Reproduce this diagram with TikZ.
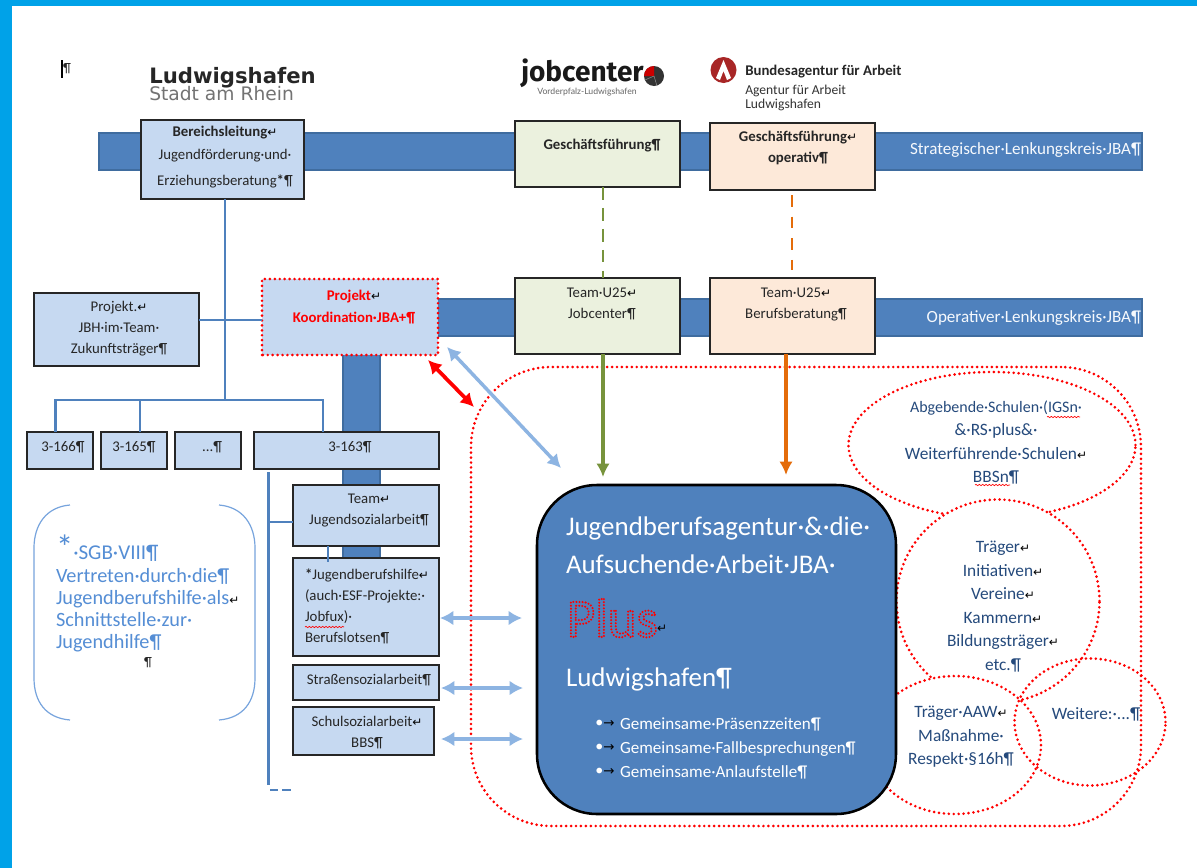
\documentclass[tikz,border=0pt]{standalone}
\usepackage{fontspec}
\setmainfont{Carlito}
\newfontfamily\djv{DejaVu Sans}
\newfontfamily\lat{Lato}
\newfontfamily\fira{Fira Sans}
\usetikzlibrary{arrows.meta,shapes.geometric,decorations.pathmorphing}
\definecolor{frame}{HTML}{00A2E8}
\definecolor{barblue}{HTML}{4F81BD}
\definecolor{barline}{HTML}{3F6C9F}
\definecolor{boxblue}{HTML}{C6D9F1}
\definecolor{boxgreen}{HTML}{EBF1DE}
\definecolor{boxorange}{HTML}{FDE9D9}
\definecolor{lblue}{HTML}{8DB4E2}
\definecolor{sgb}{HTML}{558ED5}
\definecolor{navy}{HTML}{254A7C}
\definecolor{mygreen}{HTML}{77933C}
\definecolor{myorange}{HTML}{E46C0A}
\definecolor{dotred}{HTML}{FF0000}
\newcommand{\rt}{{\djv\color{black}\fontsize{9}{9}\selectfont ↵}}
\newcommand{\fsz}[2]{\fontsize{#1}{#2}\selectfont}
\newcommand{\bx}[6][]{\node[inner sep=0pt,outer sep=0pt,minimum width={(#5-#3)*0.75pt},minimum height={(#6-#4)*0.75pt},#1] (#2) at ({(#3+#5)/2},{(#4+#6)/2}) {};}
\tikzset{
  x=0.75pt,y=-0.75pt,
  box/.style={draw=black!85,line width=1.1pt,fill=boxblue},
  gbox/.style={box,fill=boxgreen},
  obox/.style={box,fill=boxorange},
  bar/.style={fill=barblue,draw=barline,line width=1.1pt},
  reddots/.style={draw=dotred,line width=2.2pt,line cap=round,dash pattern=on 0pt off 3.7pt},
  lbl/.style={inner sep=0pt,outer sep=0pt,align=center,font=\fsz{11.1}{15.75},text=black!85},
  elbl/.style={lbl,font=\fsz{13}{17.6},text=navy},
  conn/.style={draw=barblue,line width=2.1pt},
  dbl/.style={draw=lblue,line width=2.6pt,{Latex[length=10pt,width=11pt]}-{Latex[length=10pt,width=11pt]}},
  wavy/.style={draw=red,line width=.5pt,decorate,decoration={snake,amplitude=.5pt,segment length=2.5pt}}
}
\begin{document}
\begin{tikzpicture}
\useasboundingbox (0,0) rectangle (1197,868);
\fill[white] (0,0) rectangle (1197,868);
\fill[frame] (0,0) rectangle (1197,6);
\fill[frame] (0,0) rectangle (12,868);

% cursor mark
\draw[black,line width=.8pt] (62,60) -- (62,78);
\node[lbl,font=\fsz{10}{10}] (mark) at (67,69) {¶};

% logos
\node[inner sep=0pt,anchor=base west,font=\djv\bfseries\fsz{15.9}{17},text=black!85] (lu1) at (149,83) {Ludwigshafen};
\node[inner sep=0pt,anchor=base west,font=\djv\fsz{14}{17},text=black!55] (lu2) at (149,100) {Stadt am Rhein};
\node[inner sep=0pt,anchor=base west,font=\fira\bfseries\fsz{21}{21},text=black!90] (jc1) at (521,81.5) {jobcenter};
\node[inner sep=0pt,anchor=base,font=\lat\fsz{6.5}{7},text=black!60] (jc2) at (587,94) {Vorderpfalz-Ludwigshafen};
\fill[black!80] (654,76) circle [radius=10];
\fill[red!80!black] (654,76) -- (654,66) arc[start angle=-90,end angle=-180,radius=10] -- cycle;
\draw[black!45,line width=.4pt] (654,76) -- (645,80) (654,76) -- (657,86);
\fill[red!60!black!85] (723.5,70) circle [radius=13];
\fill[white] (723.5,60) -- (716,78) -- (720,80) -- (723.5,71) -- (727,80) -- (731,78) -- cycle;
\node[inner sep=0pt,anchor=base west,font=\bfseries\fsz{11.1}{12},text=black!85] (ba1) at (745,75) {Bundesagentur für Arbeit};
\node[inner sep=0pt,anchor=base west,font=\fsz{10.2}{11},text=black!80] (ba2) at (745,94) {Agentur für Arbeit};
\node[inner sep=0pt,anchor=base west,font=\fsz{10.2}{11},text=black!80] (ba3) at (745,108) {Ludwigshafen};

% bars
\bx[bar]{barTop}{99}{133}{1142}{170}
\bx[bar]{barOp}{430}{299}{1142}{336}
\bx[bar]{barV}{343}{350}{380}{558}

% connectors behind boxes
\coordinate (j1) at (225,400);
\coordinate (j2) at (225,320);
\coordinate (a1) at (55.5,400);
\coordinate (a2) at (140,400);
\coordinate (a3) at (323,400);

% boxes
\bx[box]{bl}{141}{120}{304}{199}
\bx[gbox]{gf}{515}{121}{680}{187}
\bx[obox]{gfo}{710}{123}{875}{190}
\bx[gbox]{tj}{515}{278}{680}{354}
\bx[obox]{tb}{710}{278}{875}{354}
\bx[box]{pj}{34}{293}{199}{366}
\bx[fill=boxblue]{pk}{262}{279}{438}{355}
\draw[reddots] (pk.south west) rectangle (pk.north east);
\bx[box]{b166}{27}{432}{93}{469}
\bx[box]{b165}{101}{432}{167}{469}
\bx[box]{bdots}{175}{432}{241}{469}
\bx[box]{b163}{254}{432}{439}{469}
\bx[box]{tjs}{293}{485}{439}{546}
\bx[box]{jbh}{293}{558}{439}{656}
\bx[box]{str}{293}{665}{439}{700}
\bx[box]{sch}{293}{707}{434}{755}

\draw[conn] (bl.south -| j1) -- (j1);
\draw[conn] (pj.east |- j2) -- (pk.west |- j2);
\draw[conn] (b166.north -| a1) -- (a1) -- (a3) -- (b163.north -| a3);
\draw[conn] (a2) -- (b165.north -| a2);
\coordinate (v1) at (268.5,472);
\coordinate (v2) at (268.5,785);
\coordinate (v3) at (268.5,522);
\draw[conn] (v1) -- (v2);
\draw[conn] (v3) -- (tjs.west |- v3);
\coordinate (w1) at (328,546);
\coordinate (w2) at (328,562);
\draw[draw=barblue,line width=.8pt] (w1) -- (w2);
\coordinate (d1) at (270,790);
\coordinate (d2) at (291,790);
\draw[conn,dash pattern=on 6.2pt off 3pt] (d1) -- (d2);

% dashed links
\coordinate (g1) at (603,187);
\coordinate (g2) at (603,278);
\draw[mygreen,line width=2.2pt,dash pattern=on 9.5pt off 6.2pt] (g1) -- (g2);
\coordinate (o1) at (792,195);
\coordinate (o2) at (792,270);
\draw[myorange,line width=2.2pt,dash pattern=on 8.8pt off 7.4pt] (o1) -- (o2);

% bracket
\draw[sgb!80,line width=.9pt] (70,505) .. controls (46,507) and (34,525) .. (34,548) -- (34,678) .. controls (34,702) and (46,718) .. (70,720);
\draw[sgb!80,line width=.9pt] (219,505) .. controls (243,507) and (255,525) .. (255,548) -- (255,678) .. controls (255,702) and (243,718) .. (219,720);

% ellipses
\node[ellipse,reddots,inner sep=0pt,minimum width={287*0.75pt},minimum height={146*0.75pt}] (eAb) at (992,445) {};
\node[ellipse,reddots,fill=white,inner sep=0pt,minimum width={203*0.75pt},minimum height={203*0.75pt}] (eTr) at (998,601) {};
\node[ellipse,reddots,fill=white,inner sep=0pt,minimum width={172*0.75pt},minimum height={138*0.75pt}] (eAw) at (955,745) {};
\node[ellipse,reddots,inner sep=0pt,minimum width={151*0.75pt},minimum height={127*0.75pt}] (eWe) at (1090,722) {};

% main box
\bx[fill=barblue,draw=black,line width=1.9pt,rounded corners=45pt]{main}{537}{485}{896}{814}
\bx[reddots,rounded corners=60pt]{outer}{471}{367}{1141}{826}

% arrows
\coordinate (ga) at (603,477);
\coordinate (gb) at (603,354);
\draw[mygreen,line width=3pt,-{Latex[length=10pt,width=10pt]}] (gb) -- (ga);
\coordinate (oa) at (786,475);
\coordinate (ob) at (786,354);
\draw[myorange,line width=3pt,-{Latex[length=10pt,width=10pt]}] (ob) -- (oa);
\coordinate (ra1) at (428,360); \coordinate (ra2) at (474,407);
\draw[red,line width=2.8pt,{Latex[length=10pt,width=11pt]}-{Latex[length=10pt,width=11pt]}] (ra1) -- (ra2);
\coordinate (ba) at (447,347); \coordinate (bb) at (561,468);
\draw[dbl] (ba) -- (bb);
\coordinate (c1) at (522,618); \coordinate (c2) at (523,688); \coordinate (c3) at (523,739);
\draw[dbl] (jbh.east |- c1) ++(1,0) -- (c1);
\draw[dbl] (str.east |- c2) ++(2,0) -- (c2);
\draw[dbl] (441,739) -- (c3);

% texts
\node[lbl] (tBl) at (225,157) {\textbf{Bereichsleitung}\rt\\[1.5pt]Jugendförderung·und·\\[4pt]Erziehungsberatung\textbf{*}¶};
\node[lbl] (tGf) at (602,146) {\textbf{Geschäftsführung¶}};
\node[lbl] (tGo) at (798,148) {\textbf{Geschäftsführung}\rt\\\textbf{operativ¶}};
\node[lbl] (tTj) at (602,304) {Team·U25\rt\\Jobcenter¶};
\node[lbl] (tTb) at (796,304) {Team·U25\rt\\Berufsberatung¶};
\node[lbl] (tPj) at (119,329) {Projekt.\rt\\JBH·im·Team·\\Zukunftsträger¶};
\node[lbl,text=red] (tPk) at (354,307.5) {\textbf{Projekt}\rt\\[.8pt]\textbf{Koordination·JBA+¶}};
\node[lbl,text=white!85!boxblue,font=\fsz{12.8}{14},anchor=east] (tS) at (1141,150) {Strategischer·Lenkungskreis·JBA¶};
\node[lbl,text=white!85!boxblue,font=\fsz{12.8}{14},anchor=east] (tO) at (1141,318) {Operativer·Lenkungskreis·JBA¶};
\node[lbl] (t166) at (63,447) {3-166¶};
\node[lbl] (t165) at (134,447) {3-165¶};
\node[lbl] (tdots) at (212,447) {...¶};
\node[lbl] (t163) at (350,447) {3-163¶};
\node[lbl] (tTjs) at (369,510.5) {Team\rt\\Jugendsozialarbeit¶};
\node[lbl,align=left,anchor=north west] (tJbh) at (305,569) {\textbf{*}Jugendberufshilfe\rt\\(auch·ESF-Projekte:·\\Jobfux)·\\Berufslotsen¶};
\node[lbl] (tStr) at (369,680) {Straßensozialarbeit¶};
\node[lbl] (tSch) at (367,732.5) {Schulsozialarbeit\rt\\BBS¶};
\draw[wavy] (305,627) -- (344,627);

\node[lbl,align=left,anchor=north west,font=\fsz{15.2}{16.5},text=sgb] (tSgb) at (56,568) {Vertreten·durch·die¶\\Jugendberufshilfe·als\rt\\Schnittstelle·zur·\\Jugendhilfe¶};
\node[lbl,anchor=base west,font=\fsz{15.8}{16},text=sgb] (tSgbH) at (56,559) {{\fsz{26}{16}*}·SGB·VIII¶};
\node[lbl,font=\fsz{10}{10}] (tPil) at (148,663) {¶};

\node[lbl,align=left,anchor=base west,font=\fsz{20.2}{28.5},text=white] (m1) at (566,573) {Jugendberufsagentur·\&·die·\\Aufsuchende·Arbeit·JBA·};
\node[lbl,align=left,anchor=base west,font=\fsz{41}{41},text=red] (m2) at (567,637) {\special{pdf:code q 1 Tr 1 0 0 RG 1 J [0 2.3] 0 d 1.7 w}Plus\special{pdf:code Q}};
\node[lbl,anchor=west] (m2r) at (657,629) {\rt};
\node[lbl,align=left,anchor=base west,font=\fsz{20.2}{28},text=white] (m3) at (566,686) {Ludwigshafen¶};
\node[lbl,align=left,anchor=base west,font=\fsz{12.8}{18},text=white] (m4) at (620,777) {Gemeinsame·Präsenzzeiten¶\\Gemeinsame·Fallbesprechungen¶\\Gemeinsame·Anlaufstelle¶};
\node[lbl,font=\fsz{12}{18},text=white] (m5) at (605,748) {•{\djv\color{black}\fsz{10}{18}→}\\•{\djv\color{black}\fsz{10}{18}→}\\•{\djv\color{black}\fsz{10}{18}→}};

\node[elbl] (tAb) at (996,442.5) {{\fsz{12}{17.6}Abgebende·Schulen·(IGSn·}\\\&·RS·plus\&·\\Weiterführende·Schulen\rt\\BBSn¶};
\draw[wavy] (1047,417) -- (1080,417);
\draw[wavy] (975,485) -- (1010,485);
\node[elbl] (tTr) at (1003,606.5) {Träger\rt\\Initiativen\rt\\Vereine\rt\\Kammern\rt\\Bildungsträger\rt\\etc.¶};
\node[elbl] (tAw) at (961,737) {Träger·AAW\rt\\Maßnahme·\\Respekt·§16h¶};
\node[elbl] (tWe) at (1096,714) {Weitere:·...¶};
\end{tikzpicture}
\end{document}
